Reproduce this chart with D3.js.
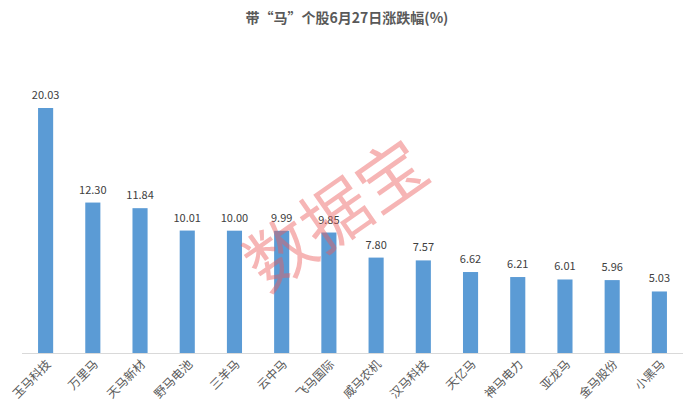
<!DOCTYPE html>
<html><head><meta charset="utf-8">
<script src="https://cdn.jsdelivr.net/npm/d3@7"></script>
<style>body{margin:0;background:#fff}</style></head>
<body><svg id="c" width="695" height="416"></svg>
<script>
const names = ["玉马科技","万里马","天马新材","野马电池","三羊马","云中马","飞马国际","威马农机","汉马科技","天亿马","神马电力","亚龙马","金马股份","小黑马"];
const values = [20.03,12.30,11.84,10.01,10.00,9.99,9.85,7.80,7.57,6.62,6.21,6.01,5.96,5.03];

const svg = d3.select("#c");
const font = "'Noto Sans CJK SC', sans-serif";
const x = d3.scaleBand().domain(names).range([22, 683]).paddingInner(0.68).paddingOuter(0.34);
const y = d3.scaleLinear().domain([0, 20.03]).range([353, 108]);

svg.append("text").attr("x", 347).attr("y", 23).attr("text-anchor", "middle")
  .style("font-family", font).style("font-size", "14px").style("font-weight", "bold")
  .style("fill", "#595959").text("带“马”个股6月27日涨跌幅(%)");

svg.selectAll(".bar").data(values).enter().append("rect")
  .attr("x", (d, i) => x(names[i])).attr("width", x.bandwidth())
  .attr("y", d => y(d)).attr("height", d => y(0) - y(d)).attr("fill", "#5b9bd5");

svg.selectAll(".val").data(values).enter().append("text")
  .attr("x", (d, i) => x(names[i]) + x.bandwidth() / 2).attr("y", d => y(d) - 9)
  .attr("text-anchor", "middle").style("font-family", font).style("font-size", "11px")
  .style("fill", "#404040").text(d => d.toFixed(2));

svg.append("line").attr("x1", 22).attr("x2", 683).attr("y1", 353.5).attr("y2", 353.5)
  .attr("stroke", "#d9d9d9");

svg.selectAll(".lab").data(names).enter().append("text")
  .attr("transform", d => `translate(${x(d) + x.bandwidth() / 2 + 6},${365}) rotate(-45)`)
  .attr("text-anchor", "end").style("font-family", font).style("font-size", "12px")
  .style("fill", "#595959").text(d => d);

// watermark
svg.append("text").attr("transform", "translate(350,235) rotate(-35)")
  .attr("text-anchor", "middle").style("font-family", font).style("font-size", "68px")
  .style("fill", "rgba(235,90,90,0.45)").text("数据宝");
</script></body></html>
